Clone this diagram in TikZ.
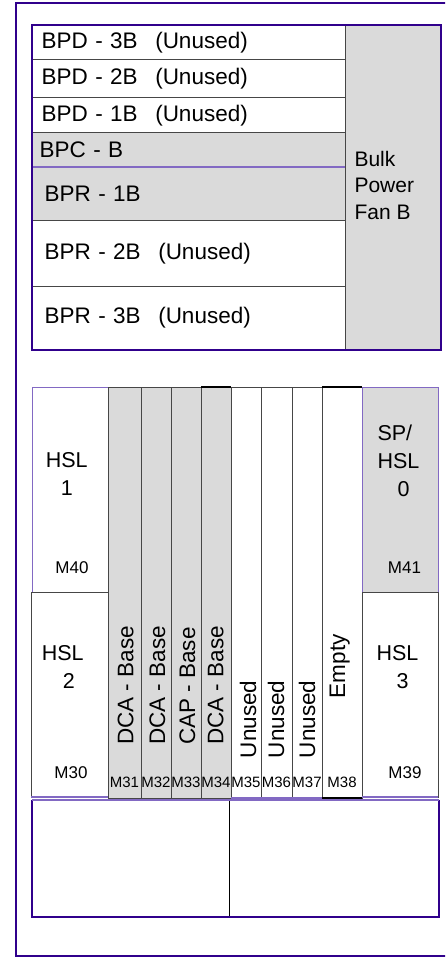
\documentclass[tikz,border=0pt]{standalone}
\usepackage{fontspec}
\setmainfont{Liberation Sans}
\usetikzlibrary{positioning}
\definecolor{rackpurple}{RGB}{48, 0, 140}
\definecolor{lightpurple}{RGB}{130, 105, 195}
\definecolor{panelgrey}{RGB}{218, 218, 218}
\definecolor{cellgrey}{RGB}{70, 70, 70}
\newcommand{\rowfont}{\fontsize{22.5}{27}\selectfont}
\newcommand{\cellfont}{\fontsize{21.5}{28}\selectfont}
\newcommand{\fanfont}{\fontsize{21}{26.7}\selectfont}
\newcommand{\slotfont}{\fontsize{22.5}{27}\selectfont}
\newcommand{\tagfont}{\fontsize{17}{20}\selectfont}
\newcommand{\slottagfont}{\fontsize{15}{18}\selectfont}

\begin{document}
\begin{tikzpicture}[x=1pt, y=-1pt,
        node distance=0pt,
        cell/.style={draw=cellgrey, line width=1pt, outer sep=0pt, inner sep=0pt},
        rowbox/.style={cell, minimum width=313pt, text width=294pt, inner xsep=9.5pt, align=left, font=\rowfont},
        slot/.style={cell, minimum height=411pt},
        txt/.style={inner sep=0pt, align=left, font=\cellfont},
        slottext/.style={rotate=90, anchor=base west, inner sep=0pt, font=\slotfont},
        celllabel/.style={inner sep=0pt, anchor=base, font=\tagfont},
        slotlabel/.style={inner sep=0pt, anchor=base, font=\slottagfont},
        rackline/.style={draw=rackpurple, line width=2.6pt},
        lightline/.style={draw=lightpurple, line width=1.2pt},
        blackline/.style={draw=black, line width=2pt}
      ]
        \useasboundingbox (0,0) rectangle (445,957);
        \clip (0,0) rectangle (445,957);
        \fill[white] (0,0) rectangle (445,957);
        \draw[rackline, line width=2.3pt] (16,3) rectangle (470,956);

        % bulk power
        \node[rowbox, anchor=north west, minimum height=35pt] (bpdthree) at (32,25) {BPD - 3B\hspace{17.5pt}(Unused)};
        \node[rowbox, below=of bpdthree, minimum height=38pt] (bpdtwo) {BPD - 2B\hspace{17.5pt}(Unused)};
        \node[rowbox, below=of bpdtwo, minimum height=35pt] (bpdone) {BPD - 1B\hspace{17.5pt}(Unused)};
        \node[rowbox, fill=panelgrey, below=of bpdone, minimum height=34pt, inner xsep=7.5pt, text width=298pt] (bpc) {BPC - B};
        \node[rowbox, fill=panelgrey, below=of bpc, minimum height=54pt, inner xsep=12.5pt, text width=288pt] (bprone) {BPR - 1B};
        \node[rowbox, below=of bprone, minimum height=65pt, inner xsep=12.5pt, text width=288pt] (bprtwo) {BPR - 2B\hspace{17.5pt}(Unused)};
        \node[rowbox, below=of bprtwo, minimum height=64pt, inner xsep=12.5pt, text width=288pt] (bprthree) {BPR - 3B\hspace{17.5pt}(Unused)};
        \node[cell, fill=panelgrey, anchor=north west, minimum width=96pt, minimum height=325pt] (fan) at (bpdthree.north east) {};
        \node[txt, font=\fanfont, anchor=north west] (fantext) at (354.3,150.7) {Bulk\\Power\\Fan B};
        \draw[lightline] (bpc.south west) -- (bpc.south east);
        \draw[rackline] (bpdthree.north west) rectangle (fan.south east);

        % cage
        \node[cell, draw=lightpurple, anchor=north west, minimum width=76pt, minimum height=205pt] (hslone) at (32,387) {};
        \node[cell, anchor=north west, minimum width=77pt, minimum height=205pt] (hsltwo) at (31,592) {};
        \node[slot, fill=panelgrey, anchor=north west, minimum width=33pt] (m31) at (108,387) {};
        \node[slot, fill=panelgrey, right=of m31, minimum width=30pt] (m32) {};
        \node[slot, fill=panelgrey, right=of m32, minimum width=30pt] (m33) {};
        \node[slot, fill=panelgrey, right=of m33, minimum width=30pt] (m34) {};
        \node[slot, right=of m34, minimum width=30pt] (m35) {};
        \node[slot, right=of m35, minimum width=31pt] (m36) {};
        \node[slot, right=of m36, minimum width=30pt] (m37) {};
        \node[slot, right=of m37, minimum width=40pt] (m38) {};
        \node[cell, fill=panelgrey, draw=lightpurple, anchor=north west, minimum width=76pt, minimum height=205pt] (sphsl) at (m38.north east) {};
        \node[cell, anchor=north west, minimum width=76pt, minimum height=205pt] (hslthree) at (sphsl.south west) {};
        \draw[blackline] (m34.north west) -- (m34.north east);
        \draw[blackline] (m38.north west) -- (m38.north east);
        \draw[lightline] (hsltwo.south west) -- (hsltwo.south east);
        \draw[lightline] (m35.south west) -- (m37.south east);
        \draw[lightline] (hslthree.south west) -- (hslthree.south east);
        \draw[blackline] (m38.south west) -- (m38.south east);

        \node[txt, anchor=north west] (hslonetext) at (45.6,452.3) {HSL\\\hspace*{15pt}1};
        \node[txt, anchor=north west] (hsltwotext) at (41.6,645.6) {HSL\\\hspace*{21pt}2};
        \node[txt, anchor=north west] (sphsltext) at (377.3,425.1) {SP/\\HSL\\\hspace*{20pt}0};
        \node[txt, anchor=north west] (hslthreetext) at (376.3,645.6) {HSL\\\hspace*{20pt}3};
        \node[celllabel] (m40) at (72,573) {M40};
        \node[celllabel] (m41) at (404.5,573) {M41};
        \node[celllabel] (m30) at (71,778) {M30};
        \node[celllabel] (m39) at (405,778) {M39};

        \node[slottext] (m31text) at (133.3,745) {DCA - Base};
        \node[slottext] (m32text) at (165,745) {DCA - Base};
        \node[slottext] (m33text) at (195,745) {CAP - Base};
        \node[slottext] (m34text) at (223.3,745) {DCA - Base};
        \node[slottext] (m35text) at (256,758.4) {Unused};
        \node[slottext] (m36text) at (284,758.4) {Unused};
        \node[slottext] (m37text) at (315,758.4) {Unused};
        \node[slottext] (m38text) at (345,698.4) {Empty};
        \foreach \s in {31,...,38}
          \node[slotlabel] (tag\s) at ([yshift=11pt]m\s.south) {M\s};

        % base
        \node[cell, draw=black, anchor=north west, minimum width=197pt, minimum height=117pt] (baseleft) at (32,800) {};
        \node[cell, draw=black, right=of baseleft, minimum width=210pt, minimum height=117pt] (baseright) {};
        \draw[rackline] (baseleft.north west) -- (baseleft.south west) -- (baseright.south east) -- (baseright.north east);
        \draw[lightline] (baseleft.north west) -- (baseright.north east);
      \end{tikzpicture}
\end{document}
